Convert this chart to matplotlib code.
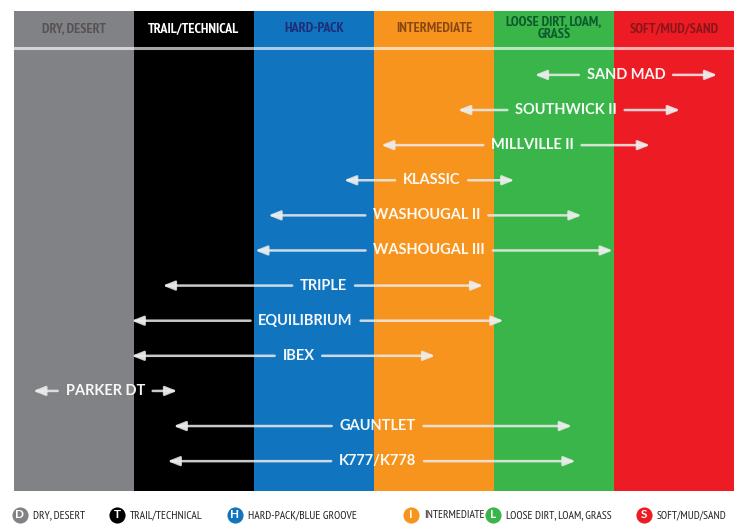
import matplotlib
matplotlib.use("Agg")
import matplotlib.pyplot as plt
from matplotlib import font_manager as fm

# terrain columns
terrains = ["DRY, DESERT", "TRAIL/TECHNICAL", "HARD-PACK", "INTERMEDIATE",
            "LOOSE DIRT, LOAM,\nGRASS", "SOFT/MUD/SAND"]
col_colors = ["#818285", "#000000", "#1174bf", "#f7941e", "#3ab54a", "#ed1c24"]
head_text_colors = ["#575354", "#ffffff", "#1e2d78", "#8a4712", "#0d5a2c", "#8c1519"]

# tire ranges, in terrain-column units (0 = left edge of DRY, 6 = right edge of SOFT)
tires = ["SAND MAD", "SOUTHWICK II", "MILLVILLE II", "KLASSIC", "WASHOUGAL II",
         "WASHOUGAL III", "TRIPLE", "EQUILIBRIUM", "IBEX", "PARKER DT",
         "GAUNTLET", "K777/K778"]
range_lo = [4.34, 3.70, 3.06, 2.75, 2.12, 2.01, 1.24, 0.98, 0.98, 0.16, 1.33, 1.28]
range_hi = [5.86, 5.55, 5.30, 4.17, 4.73, 4.99, 3.91, 4.08, 3.51, 1.36, 4.65, 4.68]
label_at = [5.10, 4.60, 4.32, 3.48, 3.44, 3.46, 2.58, 2.43, 2.37, 0.76, 3.03, 3.03]

# legend
leg_letters = ["D", "T", "H", "I", "L", "S"]
leg_labels = ["DRY, DESERT", "TRAIL/TECHNICAL", "HARD-PACK/BLUE GROOVE",
              "INTERMEDIATE", "LOOSE DIRT, LOAM, GRASS", "SOFT/MUD/SAND"]


def wnum(w):
    return w if isinstance(w, (int, float)) else fm.weight_dict.get(w, 400)


# look for a narrow face with a bold weight for the header
fonts = fm.fontManager.ttflist
bold_narrow = [f for f in fonts if wnum(f.weight) >= 600 and
               ("Narrow" in f.name or "Condensed" in f.name or
                f.stretch in ("condensed", "semi-condensed"))]
bold_narrow.sort(key=lambda f: (0 if "Narrow" in f.name else 1, f.name))
if bold_narrow:
    f0 = bold_narrow[0]
    st = "normal" if ("Narrow" in f0.name or "Condensed" in f0.name) else "condensed"
    head_font = dict(family=[f0.name, "DejaVu Sans"], fontstretch=st, fontweight="bold")
    leg_font = dict(family=[f0.name, "DejaVu Sans"], fontstretch=st, fontweight="normal")
    head_fs, leg_fs = 10.2, 8.3
else:
    head_font = dict(family=["Lato", "DejaVu Sans"], fontweight="heavy")
    leg_font = dict(family=["Lato", "DejaVu Sans"])
    head_fs, leg_fs = 8.3, 7.2

W, H = 746, 530
fig = plt.figure(figsize=(W / 100, H / 100), dpi=100)
fig.patch.set_facecolor("white")

label_font = ["Lato", "DejaVu Sans"]

# main panel: x in column units, y in row units
y_top, y_bot = -1.82, 11.85
ax = fig.add_axes([14 / W, (H - 491) / H, 720 / W, 480 / H])
ax.set_xlim(0, 6)
ax.set_ylim(y_bot, y_top)
ax.axis("off")

ax.bar(range(6), y_bot - y_top, bottom=y_top, width=1.0, align="edge",
       color=col_colors, linewidth=0)

# header separator
ax.axhline(-0.78, color="white", alpha=0.65, lw=2.2)
for i, (name, c) in enumerate(zip(terrains, head_text_colors)):
    ax.text(i + 0.5, -1.33, name, ha="center", va="center", color=c,
            fontsize=head_fs, linespacing=0.95, **head_font)

arrow_col = (0.93, 0.93, 0.93, 0.85)
texts = []
for r, (name, xc) in enumerate(zip(tires, label_at)):
    t = ax.text(xc, r, name, ha="center", va="center", color="white",
                alpha=0.95, fontsize=10.5, fontweight="bold", family=label_font)
    texts.append(t)

fig.canvas.draw()
inv = ax.transData.inverted()
gap = 0.065
for r, t in enumerate(texts):
    bb = t.get_window_extent()
    x0 = inv.transform((bb.x0, bb.y0))[0]
    x1 = inv.transform((bb.x1, bb.y0))[0]
    for start, tip in ((x0 - gap, range_lo[r]), (x1 + gap, range_hi[r])):
        ax.annotate("", xy=(tip, r), xytext=(start, r),
                    arrowprops=dict(arrowstyle="-|>,head_length=0.7,head_width=0.28",
                                    lw=1.8, color=arrow_col, shrinkA=0, shrinkB=0))

# legend strip
lax = fig.add_axes([0, 0, 1, 34 / H])
lax.set_xlim(0, W)
lax.set_ylim(0, 34)
lax.axis("off")
circle_x = [20, 117, 235, 411, 493, 644]
for cx, letter, lab, c in zip(circle_x, leg_letters, leg_labels, col_colors):
    lax.scatter([cx], [15], s=135, color=c, linewidths=0, zorder=2)
    lax.text(cx, 15, letter, ha="center", va="center", color="white",
             fontsize=8.5, fontweight="bold", family=label_font, zorder=3)
    lax.text(cx + 13, 15, lab, ha="left", va="center", color="#231f20",
             fontsize=leg_fs, **leg_font)

fig.savefig("out.png", dpi=100)
